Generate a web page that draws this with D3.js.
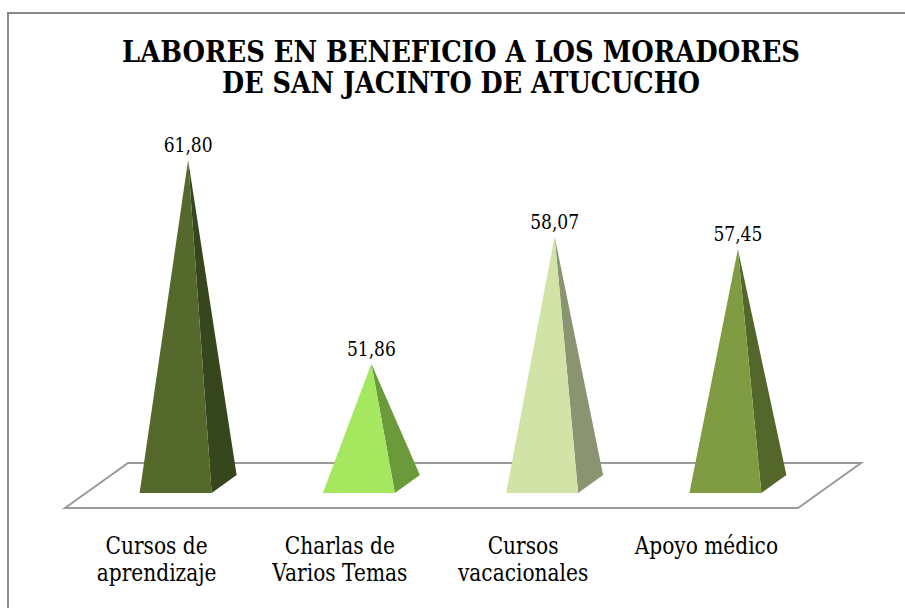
<!DOCTYPE html>
<html>
<head>
<meta charset="utf-8">
<script src="https://cdn.jsdelivr.net/npm/d3@7"></script>
<style>
  body { margin: 0; background: #fff; }
  svg { display: block; }
  text { font-family: 'DejaVu Serif', serif; fill: #000; }
</style>
</head>
<body>
<div id="chart"></div>
<script>
// chart data
const categories = ['Cursos de aprendizaje', 'Charlas de Varios Temas', 'Cursos vacacionales', 'Apoyo médico'];
const labelLines = [['Cursos de', 'aprendizaje'], ['Charlas de', 'Varios Temas'], ['Cursos', 'vacacionales'], ['Apoyo médico']];
const values = [61.80, 51.86, 58.07, 57.45];
const frontColors = ['#56692d', '#a5e75f', '#d1e3a7', '#7f9c43'];
const sideColors = ['#36461d', '#6b9a3b', '#8a9470', '#53672a'];
const titleLines = ['LABORES EN BENEFICIO A LOS MORADORES', 'DE SAN JACINTO DE ATUCUCHO'];
const titleWidths = [678, 478];

const width = 905;
const height = 608;

// squeeze a text horizontally (the serif here is wider than the original one)
function squeeze(sel, k) {
  sel.each(function () {
    const w = this.getComputedTextLength();
    d3.select(this)
      .attr('textLength', w * k)
      .attr('lengthAdjust', 'spacingAndGlyphs');
  });
}

const svg = d3.select('#chart')
  .append('svg')
  .attr('width', width)
  .attr('height', height);

// outer frame (runs off the right and bottom edges)
svg.append('path')
  .attr('d', 'M8,' + (height + 5) + 'V13H' + (width + 5))
  .attr('fill', 'none')
  .attr('stroke', '#8a8a8a')
  .attr('stroke-width', 2);

// title
svg.selectAll('.title')
  .data(titleLines)
  .enter()
  .append('text')
  .attr('class', 'title')
  .attr('x', 461)
  .attr('y', (d, i) => 62 + i * 31)
  .attr('text-anchor', 'middle')
  .attr('textLength', (d, i) => titleWidths[i])
  .attr('lengthAdjust', 'spacingAndGlyphs')
  .style('font-size', '29px')
  .style('font-weight', 'bold')
  .text(d => d);

// 3d floor: depth goes up and to the right
const depthX = 63;
const depthY = -45;
const floorFront = 508;
const floorLeft = 65;
const floorRight = 798;

svg.append('path')
  .attr('d', 'M' + floorLeft + ',' + floorFront +
    'L' + (floorLeft + depthX) + ',' + (floorFront + depthY) +
    'L' + (floorRight + depthX) + ',' + (floorFront + depthY) +
    'L' + floorRight + ',' + floorFront + 'Z')
  .attr('fill', '#fff')
  .attr('stroke', '#9a9a9a')
  .attr('stroke-width', 2);

// scales: x along the middle of the floor depth, y for value
const x = d3.scaleBand()
  .domain(categories)
  .range([floorLeft + depthX / 2, floorRight + depthX / 2]);

const xFront = d3.scaleBand()
  .domain(categories)
  .range([floorLeft, floorRight]);

const baseY = 484;
const y = d3.scaleLinear()
  .domain([46, 62])
  .range([baseY, baseY - 16 * 20.5]);

// pyramid base half sizes
const halfW = 36;
const offX = 12.5;
const offY = 9;

const data = categories.map((c, i) => ({ cat: c, value: values[i], i: i }));

const pyr = svg.selectAll('.pyr')
  .data(data)
  .enter()
  .append('g')
  .attr('class', 'pyr');

pyr.append('path')
  .attr('d', d => {
    const cx = x(d.cat) + x.bandwidth() / 2;
    const top = y(d.value);
    return 'M' + (cx + halfW - offX) + ',' + (baseY + offY) +
      'L' + (cx + halfW + offX) + ',' + (baseY - offY) +
      'L' + cx + ',' + top + 'Z';
  })
  .attr('fill', d => sideColors[d.i]);

pyr.append('path')
  .attr('d', d => {
    const cx = x(d.cat) + x.bandwidth() / 2;
    const top = y(d.value);
    return 'M' + (cx - halfW - offX) + ',' + (baseY + offY) +
      'L' + (cx + halfW - offX) + ',' + (baseY + offY) +
      'L' + cx + ',' + top + 'Z';
  })
  .attr('fill', d => frontColors[d.i]);

// value labels
pyr.append('text')
  .attr('x', d => x(d.cat) + x.bandwidth() / 2)
  .attr('y', d => y(d.value) - 8)
  .attr('text-anchor', 'middle')
  .attr('textLength', 49)
  .attr('lengthAdjust', 'spacingAndGlyphs')
  .style('font-size', '21px')
  .text(d => d3.format('.2f')(d.value).replace('.', ','));

// category labels under the front edge, one text per line
const catLines = [];
data.forEach(d => {
  labelLines[d.i].forEach((t, j) => catLines.push({ t: t, j: j, cat: d.cat }));
});

svg.selectAll('.cat')
  .data(catLines)
  .enter()
  .append('text')
  .attr('class', 'cat')
  .attr('x', d => xFront(d.cat) + xFront.bandwidth() / 2)
  .attr('y', d => 554 + d.j * 27)
  .attr('text-anchor', 'middle')
  .style('font-size', '24px')
  .text(d => d.t)
  .call(squeeze, 0.84);
</script>
</body>
</html>
